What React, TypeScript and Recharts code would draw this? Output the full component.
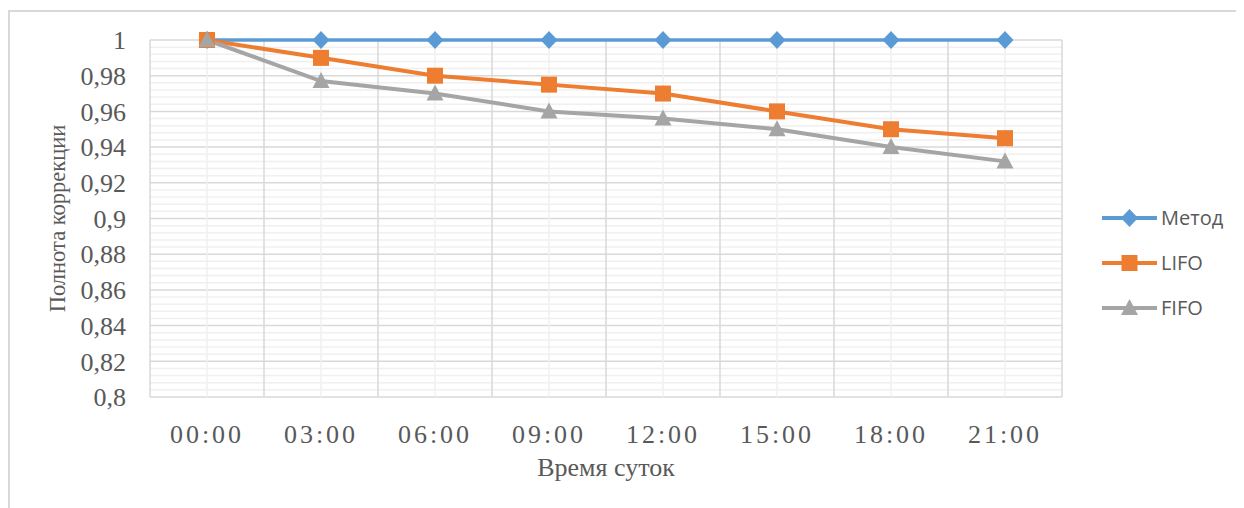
import { ComposedChart, Line, XAxis, YAxis, CartesianGrid, ReferenceLine, Legend } from "recharts";

const hours = ["00:00", "03:00", "06:00", "09:00", "12:00", "15:00", "18:00", "21:00"];
const metod = [1, 1, 1, 1, 1, 1, 1, 1];
const lifo = [1, 0.99, 0.98, 0.975, 0.97, 0.96, 0.95, 0.945];
const fifo = [1, 0.977, 0.97, 0.96, 0.956, 0.95, 0.94, 0.932];
const yTicks = [0.8, 0.82, 0.84, 0.86, 0.88, 0.9, 0.92, 0.94, 0.96, 0.98, 1];
const legendOrder = ["metod", "lifo", "fifo"];

const data = hours.map((h, i) => ({ h, metod: metod[i], lifo: lifo[i], fifo: fifo[i] }));

// excel-style minor gridlines, 5 per major interval
const minorY: number[] = [];
for (let i = 0; i < yTicks.length - 1; i++) {
  const step = (yTicks[i + 1] - yTicks[i]) / 5;
  for (let k = 1; k < 5; k++) minorY.push(+(yTicks[i] + step * k).toFixed(4));
}

const BLUE = "#5b9bd5";
const ORANGE = "#ed7d31";
const GRAY = "#a5a5a5";
const MAJOR = "#d9d9d9";
const MINOR = "#f0f0f0";
const TEXT = "#595959";

const fmt = (v: number) => String(+v.toFixed(2)).replace(".", ",");

const Diamond = (cx: number, cy: number, fill: string) => (
  <path d={`M${cx},${cy - 9}L${cx + 8.5},${cy}L${cx},${cy + 9}L${cx - 8.5},${cy}Z`} fill={fill} />
);
const Square = (cx: number, cy: number, fill: string) => (
  <rect x={cx - 8} y={cy - 8} width={16} height={16} fill={fill} />
);
const Triangle = (cx: number, cy: number, fill: string) => (
  <path d={`M${cx},${cy - 9}L${cx + 8.5},${cy + 7}L${cx - 8.5},${cy + 7}Z`} fill={fill} />
);

const markers: Record<string, (cx: number, cy: number, fill: string) => JSX.Element> = {
  metod: Diamond,
  lifo: Square,
  fifo: Triangle,
};

const dot = (key: string, color: string) => (p: any) => (
  <g key={`${key}-${p.index}`}>{markers[key](p.cx, p.cy, color)}</g>
);

const LegendBox = (props: any) => {
  const items = [...(props.payload || [])].sort(
    (a: any, b: any) => legendOrder.indexOf(a.dataKey) - legendOrder.indexOf(b.dataKey)
  );
  return (
    <div>
      {items.map((it: any) => (
        <div key={it.dataKey} style={{ height: 45, display: "flex", alignItems: "center" }}>
          <svg width={59} height={20}>
            <line x1={0} y1={10} x2={55} y2={10} stroke={it.color} strokeWidth={4} />
            {markers[it.dataKey](27.5, 10, it.color)}
          </svg>
          <span style={{ fontFamily: "'Open Sans', sans-serif", fontSize: 20, color: TEXT }}>{it.value}</span>
        </div>
      ))}
    </div>
  );
};

export default function App() {
  return (
    <div style={{ position: "relative", width: 1236, height: 500 }}>
      <div
        style={{
          position: "absolute",
          left: 0,
          top: 2,
          width: 1236,
          height: 498,
          borderTop: `2px solid ${MAJOR}`,
          borderLeft: `2px solid ${MAJOR}`,
          boxSizing: "border-box",
        }}
      />
      <ComposedChart
        width={1236}
        height={500}
        data={data}
        margin={{ top: 32, right: 182, bottom: 31, left: 42 }}
        style={{ position: "absolute", left: 0, top: 0 }}
      >
        {minorY.map((v) => (
          <ReferenceLine key={`my${v}`} y={v} stroke={MINOR} strokeWidth={1.5} ifOverflow="visible" />
        ))}
        {hours.map((h) => (
          <ReferenceLine key={`mx${h}`} x={h} position="middle" stroke={MINOR} strokeWidth={1.5} />
        ))}
        <CartesianGrid horizontal vertical={false} stroke={MAJOR} strokeWidth={1.5} />
        {hours.map((h) => (
          <ReferenceLine key={`x${h}`} x={h} position="start" stroke={MAJOR} strokeWidth={1.5} />
        ))}
        <ReferenceLine x={hours[hours.length - 1]} position="end" stroke={MAJOR} strokeWidth={1.5} />
        <XAxis
          dataKey="h"
          scale="band"
          height={80}
          axisLine={false}
          tickLine={false}
          tickMargin={22}
          tick={{ fill: TEXT, fontSize: 26, fontFamily: "'Liberation Serif', serif", letterSpacing: 3 }}
          label={{
            value: "Время суток",
            position: "insideBottom",
            offset: 1,
            fill: TEXT,
            fontSize: 26,
            fontFamily: "'Liberation Serif', serif",
          }}
        />
        <YAxis
          domain={[0.8, 1]}
          ticks={yTicks}
          interval={0}
          width={100}
          axisLine={false}
          tickLine={false}
          tickMargin={18}
          tickFormatter={fmt}
          tick={{ fill: TEXT, fontSize: 26, fontFamily: "'Liberation Serif', serif" }}
          label={{
            value: "Полнота коррекции",
            angle: -90,
            position: "insideLeft",
            offset: 7,
            fill: TEXT,
            fontSize: 22.5,
            fontFamily: "'Liberation Serif', serif",
            style: { textAnchor: "middle" },
          }}
        />
        <Legend
          layout="vertical"
          align="center"
          verticalAlign="middle"
          content={<LegendBox />}
          wrapperStyle={{ left: 1094, top: 187, width: 140 }}
        />
        <Line dataKey="metod" name="Метод" stroke={BLUE} strokeWidth={3.5} dot={dot("metod", BLUE)} isAnimationActive={false} />
        <Line dataKey="lifo" name="LIFO" stroke={ORANGE} strokeWidth={4} dot={dot("lifo", ORANGE)} isAnimationActive={false} />
        <Line dataKey="fifo" name="FIFO" stroke={GRAY} strokeWidth={4} dot={dot("fifo", GRAY)} isAnimationActive={false} />
      </ComposedChart>
    </div>
  );
}
